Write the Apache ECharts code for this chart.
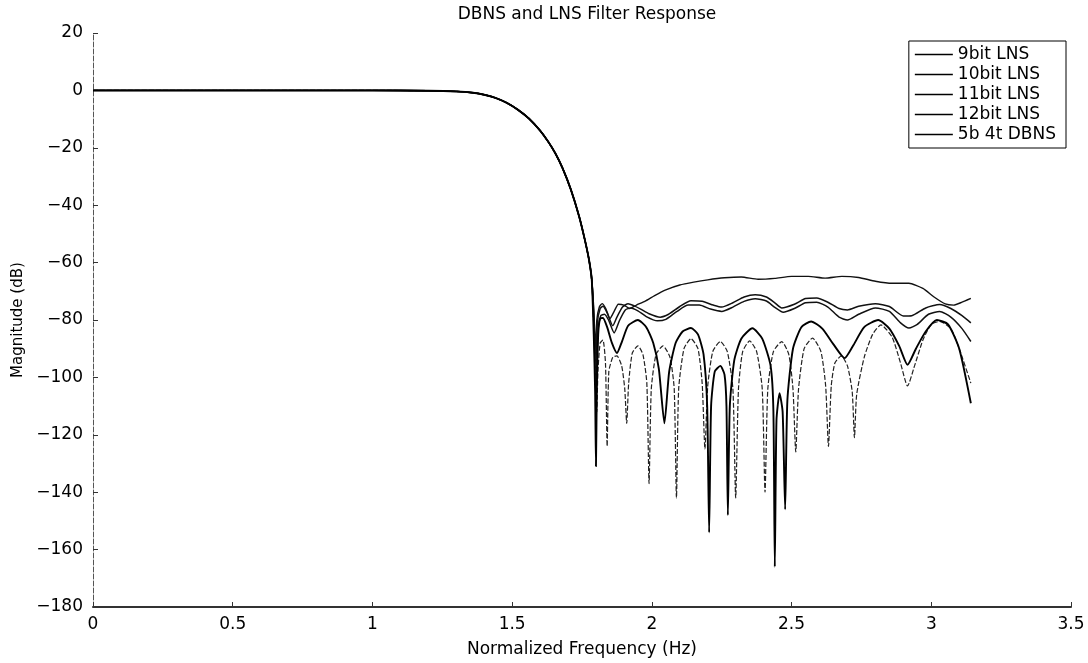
<!DOCTYPE html>
<html><head><meta charset="utf-8">
<script src="https://cdn.jsdelivr.net/npm/echarts@6/dist/echarts.min.js"></script>
<style>html,body{margin:0;padding:0;background:#fff}#c{width:1088px;height:663px}</style>
</head><body><div id="c"></div>
<script>
const seriesNames = ['9bit LNS','10bit LNS','11bit LNS','12bit LNS','5b 4t DBNS'];
const passband = [[0,0],[0.5,0],[1.0,0],[1.2,-0.1],[1.3,-0.35],[1.36,-0.8],[1.4,-1.5],[1.44,-2.6],[1.48,-4.3],[1.52,-6.7],[1.56,-9.8],[1.6,-14],[1.63,-18],[1.655,-22],[1.68,-27],[1.71,-34.5],[1.74,-44],[1.76,-52],[1.775,-59],[1.785,-66]];
const lns9 = [[1.792,-76],[1.798,-90],[1.803,-80],[1.812,-75.5],[1.822,-74.3],[1.835,-76],[1.85,-79.5],[1.865,-77],[1.88,-74.5],[1.9,-74.8],[1.92,-76],[1.945,-74.8],[1.975,-73.5],[2.01,-71.5],[2.05,-69.5],[2.1,-67.8],[2.15,-66.8],[2.2,-66],[2.26,-65.3],[2.32,-65],[2.38,-65.8],[2.44,-65.5],[2.5,-64.8],[2.56,-64.8],[2.62,-65.4],[2.68,-64.8],[2.74,-65.2],[2.8,-66.5],[2.86,-67.2],[2.92,-67.2],[2.97,-69],[3.01,-72],[3.05,-74.4],[3.08,-74.8],[3.11,-73.8],[3.1416,-72.5]];
const lns10 = [[1.792,-78],[1.799,-97],[1.805,-81],[1.815,-76],[1.825,-75.2],[1.84,-77.5],[1.86,-82],[1.875,-79],[1.895,-75.5],[1.915,-74.3],[1.935,-75],[1.96,-76.2],[1.99,-77.8],[2.03,-79],[2.06,-78],[2.1,-75.3],[2.14,-73.3],[2.18,-73.5],[2.22,-74.8],[2.25,-75.5],[2.29,-74],[2.33,-72],[2.37,-71.2],[2.41,-72],[2.44,-74],[2.465,-75.8],[2.51,-74.5],[2.55,-72.5],[2.59,-72.3],[2.63,-73.8],[2.67,-76],[2.70,-76.5],[2.74,-75.2],[2.8,-74.3],[2.85,-75.3],[2.9,-78.6],[2.93,-78.5],[2.98,-75.8],[3.03,-74.6],[3.07,-76],[3.11,-78.5],[3.1416,-81]];
const lns11 = [[1.792,-80],[1.8,-104],[1.807,-84],[1.817,-78.5],[1.83,-78],[1.845,-80],[1.865,-84.5],[1.885,-80],[1.905,-76.5],[1.925,-75.8],[1.95,-76.8],[1.98,-78.8],[2.02,-80.3],[2.05,-79.8],[2.09,-77],[2.13,-74.8],[2.17,-74.8],[2.21,-76.2],[2.25,-77],[2.29,-75.5],[2.33,-73.5],[2.37,-72.6],[2.41,-73.4],[2.44,-75.6],[2.47,-77.3],[2.51,-76],[2.55,-74],[2.59,-73.8],[2.63,-75.5],[2.67,-79],[2.70,-80],[2.74,-78],[2.8,-75.8],[2.85,-77],[2.89,-81],[2.92,-82.8],[2.95,-81.5],[2.99,-78],[3.03,-77],[3.07,-79],[3.11,-83],[3.1416,-87.5]];
const lns12 = [[1.792,-85],[1.797,-105],[1.80,-131],[1.803,-105],[1.808,-85],[1.815,-79.5],[1.825,-79.3],[1.84,-82.5],[1.857,-88],[1.875,-91.5],[1.893,-87.5],[1.915,-82],[1.95,-80],[1.98,-82.5],[2.005,-88],[2.025,-97],[2.045,-116],[2.062,-98],[2.085,-88],[2.11,-84],[2.14,-82.8],[2.165,-85],[2.185,-92],[2.198,-110],[2.205,-154],[2.212,-110],[2.225,-98],[2.245,-96],[2.26,-99],[2.267,-110],[2.272,-148],[2.279,-110],[2.295,-94],[2.32,-86.5],[2.36,-82.9],[2.395,-86.5],[2.425,-96],[2.435,-112],[2.44,-166],[2.446,-115],[2.457,-105.5],[2.468,-112],[2.477,-146],[2.485,-108],[2.505,-90],[2.535,-82.5],[2.57,-80.5],[2.61,-83],[2.65,-88.5],[2.69,-93.3],[2.72,-89],[2.76,-82.5],[2.81,-80],[2.85,-83],[2.885,-89],[2.915,-95.6],[2.945,-90],[2.98,-84],[3.02,-80],[3.06,-81.5],[3.1,-90],[3.1416,-109]];
const dbns = [[1.792,-82],[1.799,-100],[1.803,-112],[1.807,-98],[1.815,-88],[1.825,-87],[1.834,-95],[1.84,-124],[1.846,-98],[1.86,-93],[1.875,-92.5],[1.892,-96],[1.903,-104],[1.91,-116],[1.917,-102],[1.93,-91.5],[1.95,-89],[1.968,-92],[1.982,-102],[1.99,-137],[1.998,-104],[2.015,-92],[2.04,-89],[2.065,-93],[2.08,-104],[2.088,-142],[2.096,-104],[2.115,-90],[2.14,-86.5],[2.165,-90],[2.18,-102],[2.19,-125],[2.2,-103],[2.218,-91],[2.245,-87.5],[2.27,-91],[2.29,-104],[2.30,-142],[2.31,-104],[2.325,-91],[2.35,-87.3],[2.375,-91],[2.395,-104],[2.405,-140],[2.415,-104],[2.435,-91],[2.465,-87.5],[2.49,-92],[2.505,-104],[2.515,-126],[2.525,-104],[2.545,-90],[2.575,-86.3],[2.605,-91],[2.622,-103],[2.632,-124],[2.642,-103],[2.655,-95],[2.678,-92.5],[2.7,-96],[2.717,-105],[2.725,-121],[2.733,-106],[2.76,-93],[2.79,-85],[2.82,-81.7],[2.86,-86],[2.89,-95],[2.915,-103],[2.94,-96],[2.97,-87],[3.0,-81.5],[3.03,-80.5],[3.07,-83],[3.1,-90],[3.1416,-102]];
const stopbands = [lns9, lns10, lns11, lns12, dbns];
const widths = [1.4, 1.5, 1.5, 1.9, 1.2];
const lineColors = ['#111','#111','#111','#000','#222'];
const dashes = ['solid','solid','solid','solid',[5,2]];

const FONT = 'DejaVu Sans';
const chart = echarts.init(document.getElementById('c'), null, {renderer:'canvas'});
const series = seriesNames.map((n,i)=>({
  name: n, type:'line', data: passband.concat(stopbands[i]),
  symbol:'none', showSymbol:false, smooth:0.2, color:'#000',
  lineStyle:{color:lineColors[i], width:widths[i], type:dashes[i]},
  z: i===3 ? 5 : 3
}));
chart.setOption({
  animation:false,
  backgroundColor:'#fff',
  title:{text:'DBNS and LNS Filter Response', left:582, textAlign:'center', top:1,
    textStyle:{fontFamily:FONT, fontSize:17, fontWeight:'normal', color:'#000'}},
  grid:{left:93, right:17, top:33, bottom:55},
  legend:{orient:'vertical', right:22, top:41, data:seriesNames, icon:'rect',
    itemWidth:38, itemHeight:1.5, itemGap:3,
    itemStyle:{color:'#000'},
    textStyle:{fontFamily:FONT, fontSize:17, color:'#000'},
    borderColor:'#000', borderWidth:1, backgroundColor:'#fff', padding:[5,10,5,6]},
  xAxis:{type:'value', min:0, max:3.5, interval:0.5,
    name:'Normalized Frequency (Hz)', nameLocation:'middle', nameGap:34,
    nameTextStyle:{fontFamily:FONT, fontSize:17, color:'#000'},
    axisLine:{onZero:false, lineStyle:{color:'#333', width:2}},
    axisTick:{inside:true, length:5, lineStyle:{color:'#333'}},
    axisLabel:{fontFamily:FONT, fontSize:17, color:'#000', margin:9},
    splitLine:{show:false}},
  yAxis:{type:'value', min:-180, max:20, interval:20,
    name:'Magnitude (dB)', nameLocation:'middle', nameGap:62, nameRotate:90,
    nameTextStyle:{fontFamily:FONT, fontSize:15, color:'#000'},
    axisLine:{show:true, onZero:false, lineStyle:{color:'#555', width:1, type:[5,2]}},
    axisTick:{show:true, inside:true, length:5, lineStyle:{color:'#333'}},
    axisLabel:{fontFamily:FONT, fontSize:17, color:'#000', margin:10,
      formatter:v=>String(v).replace('-','\u2212')},
    splitLine:{show:false}},
  series: series
});
</script></body></html>
